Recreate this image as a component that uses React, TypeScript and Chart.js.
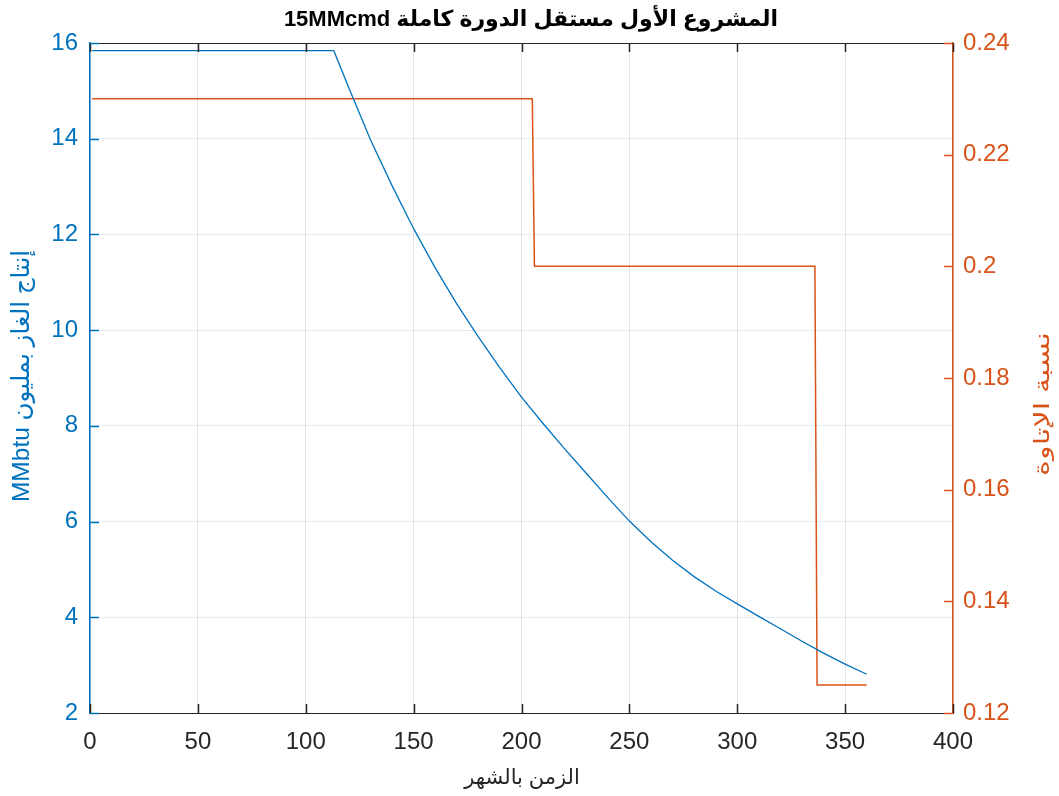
import { useEffect, useRef } from "react";
import { Chart, registerables } from "chart.js";

Chart.register(...registerables);

// Gas production (million MMbtu) by month
const months = [1, 113, 120, 130, 140, 150, 160, 170, 180, 190, 200, 210, 220, 230, 240, 250, 260, 270, 280, 290, 300, 310, 320, 330, 340, 350, 360];
const gasMMbtu = [15.84, 15.84, 15.06, 13.98, 13.02, 12.12, 11.3, 10.55, 9.86, 9.21, 8.6, 8.05, 7.52, 7.01, 6.5, 6.01, 5.58, 5.19, 4.85, 4.55, 4.28, 4.02, 3.76, 3.5, 3.25, 3.02, 2.81];

// Royalty rate steps
const royaltyMonths = [1, 205, 206, 336, 337, 360];
const royaltyRate = [0.23, 0.23, 0.2, 0.2, 0.125, 0.125];

// Axis ticks
const xTicks = [0, 50, 100, 150, 200, 250, 300, 350, 400];
const leftTicks = [2, 4, 6, 8, 10, 12, 14, 16];
const rightTicks = [0.12, 0.14, 0.16, 0.18, 0.2, 0.22, 0.24];
const rightTickLabels = ["0.12", "0.14", "0.16", "0.18", "0.2", "0.22", "0.24"];

// Texts
const titleText = "15MMcmd المشروع الأول مستقل الدورة كاملة";
const xTitle = "الزمن بالشهر";
const yTitle = "MMbtu إنتاج الغاز بمليون";
const y1Title = "نسبة الإتاوة";

const BLUE = "#0072BD";
const ORANGE = "#D95319";
const DARK = "#262626";
const FONT = '"Liberation Sans", Arial, "DejaVu Sans", sans-serif';

const decorations = {
  id: "decorations",
  afterDraw(chart: any) {
    const { ctx, chartArea } = chart;
    const { left, right, top, bottom } = chartArea;
    const xs = chart.scales.x;
    const ys = chart.scales.y;
    const y1s = chart.scales.y1;
    const tl = 9;
    ctx.save();
    ctx.lineWidth = 1;
    // top box edge
    ctx.strokeStyle = DARK;
    ctx.beginPath();
    ctx.moveTo(left, top + 0.5);
    ctx.lineTo(right, top + 0.5);
    ctx.stroke();
    // inward x ticks, top and bottom
    ctx.lineWidth = 1.5;
    xTicks.forEach((v) => {
      const px = Math.round(xs.getPixelForValue(v)) + 0.5;
      ctx.beginPath();
      ctx.moveTo(px, bottom);
      ctx.lineTo(px, bottom - tl);
      ctx.moveTo(px, top);
      ctx.lineTo(px, top + tl);
      ctx.stroke();
    });
    ctx.strokeStyle = BLUE;
    leftTicks.forEach((v) => {
      const py = Math.round(ys.getPixelForValue(v)) + 0.5;
      ctx.beginPath();
      ctx.moveTo(left, py);
      ctx.lineTo(left + tl, py);
      ctx.stroke();
    });
    ctx.strokeStyle = ORANGE;
    rightTicks.forEach((v) => {
      const py = Math.round(y1s.getPixelForValue(v)) + 0.5;
      ctx.beginPath();
      ctx.moveTo(right, py);
      ctx.lineTo(right - tl, py);
      ctx.stroke();
    });

    // title
    ctx.fillStyle = "#000000";
    ctx.font = `bold 22px ${FONT}`;
    ctx.textAlign = "center";
    ctx.textBaseline = "middle";
    ctx.fillText(titleText, 531, 20);

    // x axis title
    ctx.fillStyle = DARK;
    ctx.font = `21px ${FONT}`;
    ctx.fillText(xTitle, 522, 778);

    // left axis title
    ctx.save();
    ctx.translate(22, 376);
    ctx.rotate(-Math.PI / 2);
    ctx.fillStyle = BLUE;
    ctx.font = `24.5px ${FONT}`;
    ctx.fillText(yTitle, 0, 0);
    ctx.restore();

    // right axis title (narrow, tall lettering)
    ctx.save();
    ctx.translate(1043, 404);
    ctx.rotate(-Math.PI / 2);
    ctx.scale(1.45, 1);
    ctx.fillStyle = ORANGE;
    ctx.font = `21px ${FONT}`;
    ctx.fillText(y1Title, 0, 0);
    ctx.restore();

    ctx.restore();
  },
};

export default function App() {
  const canvasRef = useRef<HTMLCanvasElement | null>(null);

  useEffect(() => {
    if (!canvasRef.current) return;
    const chart = new Chart(canvasRef.current, {
      type: "line",
      data: {
        datasets: [
          {
            label: "gas",
            data: months.map((m, i) => ({ x: m, y: gasMMbtu[i] })),
            borderColor: BLUE,
            borderWidth: 1.3,
            pointRadius: 0,
            tension: 0,
            yAxisID: "y",
          },
          {
            label: "royalty",
            data: royaltyMonths.map((m, i) => ({ x: m, y: royaltyRate[i] })),
            borderColor: ORANGE,
            borderWidth: 1.5,
            pointRadius: 0,
            tension: 0,
            yAxisID: "y1",
          },
        ],
      },
      plugins: [decorations],
      options: {
        animation: false,
        responsive: false,
        layout: { padding: { top: 43, left: 0, right: 0, bottom: 0 } },
        plugins: {
          legend: { display: false },
          title: { display: false },
          tooltip: { enabled: false },
        },
        scales: {
          x: {
            type: "linear",
            min: 0,
            max: 400,
            afterBuildTicks: (s: any) => {
              s.ticks = xTicks.map((v) => ({ value: v }));
            },
            afterFit: (s: any) => {
              s.height = 83;
            },
            ticks: {
              color: DARK,
              font: { size: 24, family: FONT },
              padding: 15,
              maxRotation: 0,
              autoSkip: false,
            },
            grid: { color: "rgba(38,38,38,0.13)", drawTicks: false, lineWidth: 1 },
            border: { color: DARK, width: 1 },
          },
          y: {
            type: "linear",
            position: "left",
            min: 2,
            max: 16,
            afterBuildTicks: (s: any) => {
              s.ticks = leftTicks.map((v) => ({ value: v }));
            },
            afterFit: (s: any) => {
              s.width = 90;
            },
            ticks: {
              color: BLUE,
              font: { size: 24, family: FONT },
              padding: 12,
              autoSkip: false,
            },
            grid: { color: "rgba(0,114,189,0.13)", drawTicks: false, lineWidth: 1 },
            border: { color: BLUE, width: 1.5 },
          },
          y1: {
            type: "linear",
            position: "right",
            min: 0.12,
            max: 0.24,
            afterBuildTicks: (s: any) => {
              s.ticks = rightTicks.map((v) => ({ value: v }));
            },
            afterFit: (s: any) => {
              s.width = 106;
            },
            ticks: {
              color: ORANGE,
              font: { size: 24, family: FONT },
              padding: 10,
              autoSkip: false,
              callback: (_v: any, i: number) => rightTickLabels[i],
            },
            grid: { drawOnChartArea: false, drawTicks: false },
            border: { color: ORANGE, width: 1.5 },
          },
        },
      },
    });
    return () => chart.destroy();
  }, []);

  return (
    <canvas
      ref={canvasRef}
      width={1059}
      height={796}
      style={{ position: "absolute", left: 0, top: 0, width: 1059, height: 796, background: "#ffffff" }}
    />
  );
}
